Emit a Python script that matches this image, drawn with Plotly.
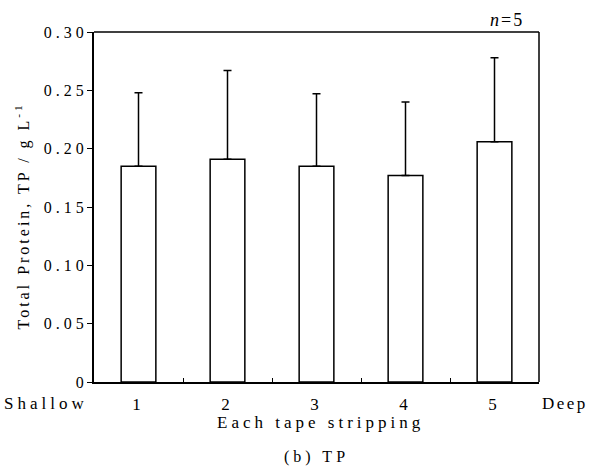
import plotly.graph_objects as go

categories = ["1", "2", "3", "4", "5"]
tp_mean = [0.185, 0.191, 0.185, 0.177, 0.206]
tp_sd = [0.063, 0.076, 0.062, 0.063, 0.072]
ytick_vals = [0, 0.05, 0.10, 0.15, 0.20, 0.25, 0.30]
ytick_text = ["0", "0.05", "0.10", "0.15", "0.20", "0.25", "0.30"]

FONT = "Liberation Serif"

fig = go.Figure()
fig.add_trace(go.Bar(
    x=categories, y=tp_mean,
    width=0.39,
    marker=dict(color="white", line=dict(color="black", width=1.5)),
    error_y=dict(type="data", array=tp_sd, arrayminus=[0] * len(tp_sd),
                 symmetric=False, color="black", thickness=1.5, width=4),
))

fig.update_layout(
    width=591, height=474,
    margin=dict(l=94, r=52, t=32, b=92),
    paper_bgcolor="white", plot_bgcolor="white",
    showlegend=False,
    font=dict(family=FONT, size=16, color="black"),
    xaxis=dict(
        type="category", showline=True, linecolor="black", linewidth=2,
        mirror=False, ticks="inside", ticklen=4, tickwidth=1, tickcolor="black",
        tickson="boundaries", showgrid=False, zeroline=False,
        tickfont=dict(family=FONT, size=17), ticklabelstandoff=6,
    ),
    yaxis=dict(
        range=[0, 0.30], showline=True, linecolor="black", linewidth=2,
        mirror=False, ticks="outside", ticklen=5, tickwidth=1, tickcolor="black",
        tickvals=ytick_vals, ticktext=ytick_text, showgrid=False, zeroline=False,
        tickfont=dict(family=FONT, size=16),
    ),
    shapes=[
        dict(type="line", xref="paper", yref="paper", x0=0, x1=1, y0=1, y1=1,
             line=dict(color="black", width=1.5)),
        dict(type="line", xref="paper", yref="paper", x0=1, x1=1, y0=0, y1=1,
             line=dict(color="black", width=1.5)),
    ],
    annotations=[
        dict(text="Total Protein, TP / g L<sup>-1</sup>", xref="paper", yref="paper",
             x=-0.162, y=0.474, xanchor="center", yanchor="middle", textangle=-90,
             showarrow=False, font=dict(family=FONT, size=16)),
        dict(text="Shallow", xref="paper", yref="paper", x=-0.107, y=-0.06,
             xanchor="center", yanchor="middle", showarrow=False,
             font=dict(family=FONT, size=17)),
        dict(text="Deep", xref="paper", yref="paper", x=1.058, y=-0.06,
             xanchor="center", yanchor="middle", showarrow=False,
             font=dict(family=FONT, size=17)),
        dict(text="Each tape stripping", xref="paper", yref="paper", x=0.51, y=-0.116,
             xanchor="center", yanchor="middle", showarrow=False,
             font=dict(family=FONT, size=17)),
        dict(text="(b) TP", xref="paper", yref="paper", x=0.5, y=-0.214,
             xanchor="center", yanchor="middle", showarrow=False,
             font=dict(family=FONT, size=16)),
        dict(text="<i>n</i>=5", xref="paper", yref="paper", x=0.928, y=1.0,
             xanchor="center", yanchor="bottom", showarrow=False,
             font=dict(family=FONT, size=18)),
    ],
)

post = """
var gd = document.getElementsByClassName('plotly-graph-div')[0];
gd.querySelectorAll('.xtick text, .annotation-text').forEach(function(t){
  var s = t.textContent;
  if (s.indexOf('n=5') !== -1) { t.style.letterSpacing = '2px'; }
  else if (s.indexOf('Total') !== -1) { t.style.letterSpacing = '3px'; }
  else if (s.indexOf('Deep') !== -1) { t.style.letterSpacing = '2.5px'; }
  else { t.style.letterSpacing = '4px'; }
});
gd.querySelectorAll('.ytick text').forEach(function(t){
  t.style.letterSpacing = '4px';
  t.setAttribute('dx', '4');
});
"""

fig.write_html("out.html", post_script=post)
